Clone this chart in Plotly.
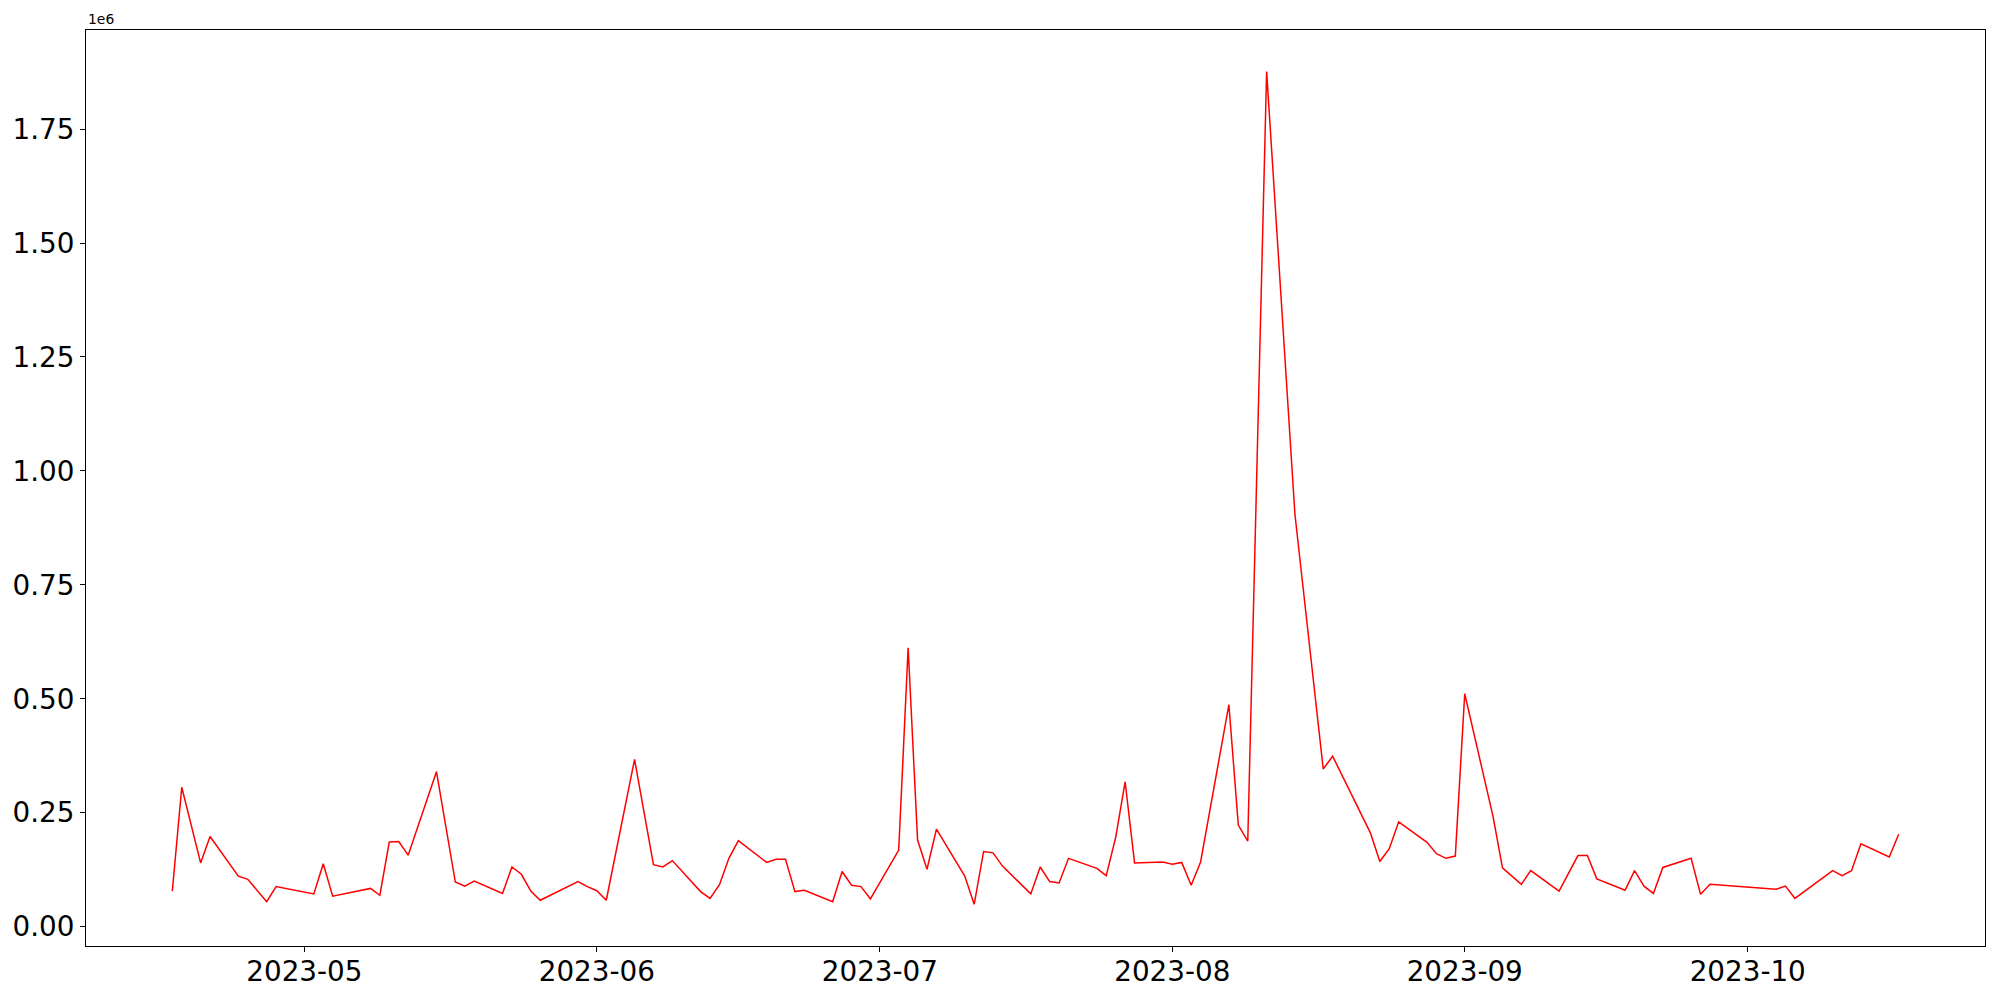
import pandas as pd
import plotly.graph_objects as go

dates = [
    "2023-04-17", "2023-04-18", "2023-04-20", "2023-04-21", "2023-04-24", "2023-04-25",
    "2023-04-27", "2023-04-28", "2023-05-02", "2023-05-03", "2023-05-04", "2023-05-08",
    "2023-05-09", "2023-05-10", "2023-05-11", "2023-05-12", "2023-05-15", "2023-05-17",
    "2023-05-18", "2023-05-19", "2023-05-22", "2023-05-23", "2023-05-24", "2023-05-25",
    "2023-05-26", "2023-05-30", "2023-05-31", "2023-06-01", "2023-06-02", "2023-06-05",
    "2023-06-07", "2023-06-08", "2023-06-09", "2023-06-12", "2023-06-13", "2023-06-14",
    "2023-06-15", "2023-06-16", "2023-06-19", "2023-06-20", "2023-06-21", "2023-06-22",
    "2023-06-23", "2023-06-26", "2023-06-27", "2023-06-28", "2023-06-29", "2023-06-30",
    "2023-07-03", "2023-07-04", "2023-07-05", "2023-07-06", "2023-07-07", "2023-07-10",
    "2023-07-11", "2023-07-12", "2023-07-13", "2023-07-14", "2023-07-17", "2023-07-18",
    "2023-07-19", "2023-07-20", "2023-07-21", "2023-07-24", "2023-07-25", "2023-07-26",
    "2023-07-27", "2023-07-28", "2023-07-31", "2023-08-01", "2023-08-02", "2023-08-03",
    "2023-08-04", "2023-08-07", "2023-08-08", "2023-08-09", "2023-08-11", "2023-08-14",
    "2023-08-17", "2023-08-18", "2023-08-22", "2023-08-23", "2023-08-24", "2023-08-25",
    "2023-08-28", "2023-08-29", "2023-08-30", "2023-08-31", "2023-09-01", "2023-09-04",
    "2023-09-05", "2023-09-07", "2023-09-08", "2023-09-11", "2023-09-13", "2023-09-14",
    "2023-09-15", "2023-09-18", "2023-09-19", "2023-09-20", "2023-09-21", "2023-09-22",
    "2023-09-25", "2023-09-26", "2023-09-27", "2023-10-04", "2023-10-05", "2023-10-06",
    "2023-10-10", "2023-10-11", "2023-10-12", "2023-10-13", "2023-10-16", "2023-10-17",
]

values = [
    78000, 306000, 140000, 198000, 111000, 104000,
    55000, 88000, 72000, 138000, 67000, 84000,
    69000, 186000, 187000, 157000, 340000, 98000,
    89000, 100000, 73000, 131000, 115000, 78000,
    58000, 99000, 88000, 79000, 58000, 367000,
    136000, 131000, 145000, 77000, 62000, 92000,
    150000, 189000, 141000, 148000, 148000, 77000,
    80000, 55000, 121000, 91000, 88000, 61000,
    168000, 612000, 190000, 126000, 214000, 111000,
    49000, 165000, 162000, 133000, 72000, 131000,
    99000, 96000, 150000, 128000, 112000, 196000,
    318000, 140000, 142000, 137000, 141000, 91000,
    142000, 487000, 223000, 188000, 1876000, 905000,
    346000, 374000, 206000, 143000, 171000, 230000,
    185000, 160000, 150000, 155000, 511000, 242000,
    129000, 93000, 123000, 78000, 156000, 156000,
    105000, 80000, 123000, 89000, 73000, 130000,
    150000, 71000, 93000, 82000, 89000, 62000,
    123000, 112000, 123000, 182000, 153000, 203000,
]

x_ticks = ["2023-05-01", "2023-06-01", "2023-07-01", "2023-08-01", "2023-09-01", "2023-10-01"]
x_tick_labels = ["2023-05", "2023-06", "2023-07", "2023-08", "2023-09", "2023-10"]
y_ticks = [0, 250000, 500000, 750000, 1000000, 1250000, 1500000, 1750000]
y_tick_labels = ["0.00", "0.25", "0.50", "0.75", "1.00", "1.25", "1.50", "1.75"]

dt = pd.to_datetime(dates)
span = dt.max() - dt.min()
x_range = [dt.min() - 0.05 * span, dt.max() + 0.05 * span]
vmin, vmax = min(values), max(values)
vspan = vmax - vmin
y_range = [vmin - 0.05 * vspan, vmax + 0.05 * vspan]

fig = go.Figure()
fig.add_trace(go.Scatter(
    x=dt, y=values, mode="lines",
    line=dict(color="#ff0000", width=1.5),
    showlegend=False, hoverinfo="x+y",
))

font_family = "DejaVu Sans"
fig.update_layout(
    width=2000, height=1000,
    margin=dict(l=86, r=15, t=30, b=54, autoexpand=False),
    paper_bgcolor="white", plot_bgcolor="white",
    font=dict(family=font_family, color="black"),
    showlegend=False,
)
fig.update_xaxes(
    range=x_range, tickvals=pd.to_datetime(x_ticks), ticktext=x_tick_labels,
    showgrid=False, zeroline=False, automargin=False,
    showline=True, linecolor="black", linewidth=1.1, mirror=True,
    ticks="outside", ticklen=5, tickwidth=1.1, tickcolor="black",
    ticklabelstandoff=-4,
    tickfont=dict(size=27.8, family=font_family, color="black"),
)
fig.update_yaxes(
    range=y_range, tickvals=y_ticks, ticktext=y_tick_labels,
    showgrid=False, zeroline=False, automargin=False,
    showline=True, linecolor="black", linewidth=1.1, mirror=True,
    ticks="outside", ticklen=5, tickwidth=1.1, tickcolor="black",
    tickfont=dict(size=27.8, family=font_family, color="black"),
)
fig.add_annotation(
    text="1e6", xref="paper", yref="paper", x=0, y=1,
    xanchor="left", yanchor="bottom", showarrow=False,
    font=dict(size=13.9, family=font_family, color="black"),
    yshift=1,
)

fig.write_html(
    "out.html",
    config={"displayModeBar": False},
    post_script="document.body.style.margin='0px';document.body.style.overflow='hidden';",
)
